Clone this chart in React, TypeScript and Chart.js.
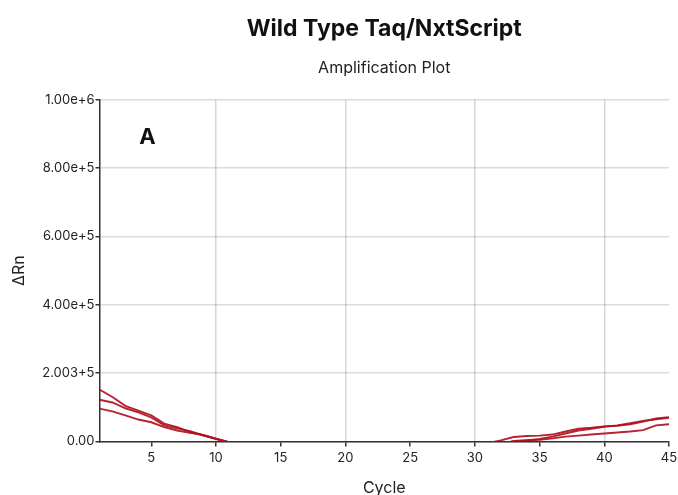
import React, { useEffect, useRef } from "react";
import { Chart, registerables } from "chart.js";

Chart.register(...registerables);

const cycles = Array.from({ length: 45 }, (_, i) => i + 1);

const wellA = [
  152000, 130000, 104000, 90000, 76000, 52000, 42000, 27000, 18000, 7000,
  -3000, -12000, -20000, -28000, -34000, -40000, -45000, -49000, -52000, -54000,
  -55000, -55000, -54000, -52000, -49000, -45000, -40000, -33000, -25000, -16000,
  -5000, 3000, 13000, 16000, 17000, 20000, 29000, 37000, 40000, 44000,
  46000, 50000, 58000, 67000, 71000,
];
const wellB = [
  122000, 114000, 97000, 85000, 70000, 47000, 38000, 30000, 18000, 8000,
  -2000, -11000, -19000, -27000, -34000, -40000, -45000, -50000, -54000, -57000,
  -59000, -60000, -60000, -59000, -57000, -54000, -50000, -45000, -38000, -28000,
  -15000, -6000, 0, 3000, 7000, 14000, 23000, 32000, 37000, 43000,
  47000, 53000, 60000, 65000, 69000,
];
const wellC = [
  96000, 88000, 76000, 64000, 56000, 42000, 32000, 25000, 19000, 8000,
  -2000, -10000, -18000, -26000, -33000, -39000, -44000, -49000, -53000, -56000,
  -58000, -59000, -59000, -58000, -56000, -53000, -49000, -44000, -38000, -30000,
  -20000, -8000, 1000, 3500, 5000, 9000, 14000, 17000, 20000, 23000,
  26000, 29000, 33000, 47000, 50000,
];

const xTickValues = [5, 10, 15, 20, 25, 30, 35, 40, 45];
const xTickLabels = ["5", "10", "15", "20", "25", "30", "35", "40", "45"];
const yTickValues = [0, 200000, 400000, 600000, 800000, 1000000];
const yTickLabels = ["0.00", "2.003+5", "4.00e+5", "6.00e+5", "8.00e+5", "1.00e+6"];

const titleText = "Wild Type Taq/NxtScript";
const subtitleText = "Amplification Plot";
const panelLabel = "A";
const panelLabelPos = { cycle: 4.7, value: 889000 };

const FONT = "Inter, 'Noto Sans', sans-serif";
const LINE = "rgba(176, 16, 32, 0.92)";

const panelPlugin = {
  id: "panelLabel",
  afterDraw(chart: any) {
    const { ctx, scales } = chart;
    const x = scales.x.getPixelForValue(panelLabelPos.cycle);
    const y = scales.y.getPixelForValue(panelLabelPos.value);
    ctx.save();
    ctx.font = `bold 22px ${FONT}`;
    ctx.fillStyle = "#111";
    ctx.textAlign = "center";
    ctx.textBaseline = "middle";
    ctx.fillText(panelLabel, x, y);
    ctx.restore();
  },
};

export default function App() {
  const ref = useRef<HTMLCanvasElement>(null);
  useEffect(() => {
    if (!ref.current) return;
    const mk = (data: number[]) => ({
      data: data.map((v, i) => ({ x: cycles[i], y: v })),
      borderColor: LINE,
      borderWidth: 1.9,
      pointRadius: 0,
      tension: 0,
      fill: false,
    });
    const chart = new Chart(ref.current, {
      type: "line",
      data: {
        labels: cycles,
        datasets: [mk(wellA), mk(wellB), mk(wellC)] as any,
      },
      plugins: [panelPlugin],
      options: {
        animation: false,
        responsive: true,
        maintainAspectRatio: false,
        layout: { padding: { left: 10, right: 0, top: 15, bottom: -1 } },
        plugins: {
          legend: { display: false },
          tooltip: { enabled: false },
          title: {
            display: true,
            text: titleText,
            fullSize: false,
            color: "#111",
            font: { family: FONT, size: 23, weight: "bold", lineHeight: 1.2 },
            padding: { top: 0, bottom: 16 },
          },
          subtitle: {
            display: true,
            text: subtitleText,
            fullSize: false,
            color: "#222",
            font: { family: FONT, size: 16, weight: "normal", lineHeight: 1.2 },
            padding: { top: 0, bottom: 22 },
          },
        },
        scales: {
          x: {
            type: "linear",
            min: 1,
            max: 45,
            afterBuildTicks: (axis: any) => {
              axis.ticks = xTickValues.map((v) => ({ value: v }));
            },
            afterFit: (axis: any) => {
              axis.paddingRight = 9;
            },
            ticks: {
              color: "#222",
              font: { family: FONT, size: 13, lineHeight: 1.2 },
              padding: 4,
              maxRotation: 0,
              autoSkip: false,
              callback: (_v: any, i: number) => xTickLabels[i],
            },
            grid: {
              color: (c: any) =>
                c.tick && c.tick.value % 10 === 0 ? "rgba(0,0,0,0.16)" : "rgba(0,0,0,0)",
              lineWidth: 1.5,
              tickColor: "#333",
              tickLength: 5,
            },
            border: { color: "#333", width: 1.5 },
            title: {
              display: true,
              text: "Cycle",
              color: "#222",
              font: { family: FONT, size: 16, lineHeight: 1 },
              padding: { top: 10, bottom: 0 },
            },
          },
          y: {
            type: "linear",
            min: 0,
            max: 1000000,
            afterBuildTicks: (axis: any) => {
              axis.ticks = yTickValues.map((v) => ({ value: v }));
            },
            ticks: {
              color: "#222",
              font: { family: FONT, size: 13 },
              padding: 1,
              autoSkip: false,
              callback: (_v: any, i: number) => yTickLabels[i],
            },
            grid: {
              color: "rgba(0,0,0,0.14)",
              lineWidth: 1.5,
              tickColor: "#333",
              tickLength: 4,
            },
            border: { color: "#333", width: 1.5 },
            title: {
              display: true,
              text: "ΔRn",
              color: "#222",
              font: { family: FONT, size: 16 },
              padding: { top: 0, bottom: 12 },
            },
          },
        },
      },
    });
    return () => chart.destroy();
  }, []);
  return (
    <div style={{ position: "absolute", left: 0, top: 0, width: 678, height: 495 }}>
      <canvas ref={ref} />
    </div>
  );
}
